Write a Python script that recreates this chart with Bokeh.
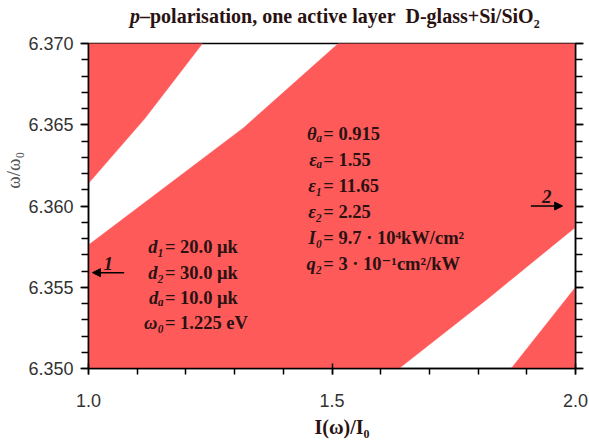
import math
from bokeh.plotting import figure
from bokeh.layouts import column
from bokeh.models import Range1d, LinearAxis, FixedTicker, Label, Arrow, NormalHead, ColumnDataSource, Div
from bokeh.core.properties import value
from bokeh.embed import file_html
from bokeh.resources import INLINE

# ---------------- data ----------------
x_min, x_max = 1.0, 2.0
y_min, y_max = 6.350, 6.370

x_major_ticks = [1.0, 1.5, 2.0]
x_tick_labels = ["1.0", "1.5", "2.0"]
x_minor_ticks = [1.0, 1.1, 1.2, 1.3, 1.4, 1.5, 1.6, 1.7, 1.8, 1.9, 2.0]
y_major_ticks = [6.350, 6.355, 6.360, 6.365, 6.370]
y_tick_labels = ["6.350", "6.355", "6.360", "6.365", "6.370"]
y_minor_ticks = [6.350, 6.351, 6.352, 6.353, 6.354, 6.355, 6.356, 6.357, 6.358, 6.359,
                 6.360, 6.361, 6.362, 6.363, 6.364, 6.365, 6.366, 6.367, 6.368, 6.369, 6.370]

# boundaries of the white (unstable) bands
band_a_upper_x = [1.0, 1.116, 1.234]
band_a_upper_y = [6.3614, 6.3654, 6.370]
band_a_lower_x = [1.0, 1.318, 1.513]
band_a_lower_y = [6.3576, 6.3648, 6.370]
band_b_upper_x = [1.6375, 1.82, 2.0]
band_b_upper_y = [6.350, 6.3543, 6.3587]
band_b_lower_x = [1.868, 2.0]
band_b_lower_y = [6.350, 6.3550]

# arrows marking branches 1 and 2
arrow_names = ["1", "2"]
arrow_x_start = [1.0733, 1.9084]
arrow_x_end = [1.0081, 1.9735]
arrow_y = [6.3559, 6.3600]

left_symbols = ["d\u2081", "d\u2082", "d\u2090", "\u03c9\u2080"]
left_values = ["= 20.0 \u03bck", "= 30.0 \u03bck", "= 10.0 \u03bck", "= 1.225 eV"]
right_symbols = ["\u03b8\u2090", "\u03b5\u2090", "\u03b5\u2081", "\u03b5\u2082", "I\u2080", "q\u2082"]
right_values = ["= 0.915", "= 1.55", "= 11.65", "= 2.25",
                "= 9.7 \u00b7 10\u2074kW/cm\u00b2", "= 3 \u00b7 10\u207b\u00b9cm\u00b2/kW"]

title_html = ("<i>p</i>\u2013polarisation, one active layer&nbsp;&nbsp;"
              "D-glass+Si/SiO<sub style='font-size:12px'>2</sub>")
x_label = "I(\u03c9)/I\u2080"
y_label = "\u03c9/\u03c9\u2080"

# ---------------- style ----------------
RED = "#ff5a5a"
TXT = "#2a1212"
SERIF = "Liberation Serif, DejaVu Serif, serif"
SANS = "Liberation Sans, DejaVu Sans, sans-serif"
NB = "\u00a0"

title_div = Div(
    text=("<div style=\"font-family:'Liberation Serif','DejaVu Serif',serif;font-size:20px;"
          "font-weight:bold;color:%s;padding-left:130px;padding-top:5px;white-space:nowrap;"
          "line-height:23px\">%s</div>") % (TXT, title_html),
    width=589, height=30, margin=(0, 0, 0, 0))

p = figure(width=589, height=413, output_backend="svg", toolbar_location=None,
           x_range=Range1d(x_min, x_max), y_range=Range1d(y_min, y_max),
           min_border_left=84, min_border_right=14, min_border_top=13, min_border_bottom=75,
           margin=(0, 0, 0, 0))
p.xgrid.visible = False
p.ygrid.visible = False
p.background_fill_color = "white"
p.outline_line_color = "black"
p.outline_line_width = 1.5

# red (stable) regions
reg1_x = [x_min] + band_a_upper_x
reg1_y = [y_max] + band_a_upper_y
reg2_x = band_a_lower_x + [x_max] + band_b_upper_x[::-1] + [x_min]
reg2_y = band_a_lower_y + [y_max] + band_b_upper_y[::-1] + [y_min]
reg3_x = band_b_lower_x + [x_max]
reg3_y = band_b_lower_y + [y_min]
p.patches(xs=[reg1_x, reg2_x, reg3_x], ys=[reg1_y, reg2_y, reg3_y],
          fill_color=RED, line_color=RED, line_width=0.5)

# axes
xa = p.xaxis[0]
xa.ticker = FixedTicker(ticks=x_major_ticks, minor_ticks=x_minor_ticks)
xa.major_label_overrides = {t: l for t, l in zip(x_major_ticks, x_tick_labels)}
ya = p.yaxis[0]
ya.ticker = FixedTicker(ticks=y_major_ticks, minor_ticks=y_minor_ticks)
ya.major_label_overrides = {t: l for t, l in zip(y_major_ticks, y_tick_labels)}
for ax in (xa, ya):
    ax.axis_line_color = "black"
    ax.axis_line_width = 1.5
    ax.major_tick_line_color = "black"
    ax.minor_tick_line_color = "black"
    ax.major_tick_line_width = 1.5
    ax.minor_tick_line_width = 1.5
    ax.major_label_text_font = SANS
    ax.major_label_text_font_size = "18px"
    ax.major_label_text_color = "#333333"
xa.major_tick_in = 5
xa.major_tick_out = 6
xa.minor_tick_in = 0
xa.minor_tick_out = 6
xa.major_label_standoff = 19
xa.axis_label = NB * 4 + x_label
xa.axis_label_text_font = SERIF
xa.axis_label_text_font_style = "bold"
xa.axis_label_text_font_size = "20px"
xa.axis_label_text_color = TXT
xa.axis_label_standoff = 6

ya.major_tick_in = 0
ya.major_tick_out = 8
ya.minor_tick_in = 0
ya.minor_tick_out = 7
ya.major_label_standoff = 7
ya.axis_label = NB * 15 + y_label
ya.axis_label_text_font = SERIF
ya.axis_label_text_font_style = "normal"
ya.axis_label_text_font_size = "19px"
ya.axis_label_text_color = "#555555"
ya.axis_label_standoff = 1

ra = LinearAxis(ticker=FixedTicker(ticks=y_major_ticks, minor_ticks=y_minor_ticks))
ra.major_label_overrides = {t: "" for t in y_major_ticks}
ra.major_label_standoff = 0
ra.axis_line_color = "black"
ra.axis_line_width = 1.5
ra.major_tick_line_width = 1.5
ra.minor_tick_line_width = 1.5
ra.major_tick_in = 0
ra.major_tick_out = 8
ra.minor_tick_in = 0
ra.minor_tick_out = 7
p.add_layout(ra, "right")

# annotation blocks
left_sep_x, left_y0, left_step = 1.1548, 6.35745, -0.00156
right_sep_x, right_y0, right_step = 1.4800, 6.36446, -0.00160
ann_x = [left_sep_x] * len(left_symbols) + [right_sep_x] * len(right_symbols)
ann_y = [left_y0 + i * left_step for i in range(len(left_symbols))] + \
        [right_y0 + i * right_step for i in range(len(right_symbols))]
src = ColumnDataSource(dict(x=ann_x, y=ann_y, sym=left_symbols + right_symbols,
                            val=left_values + right_values))
p.text(x="x", y="y", text="sym", source=src, text_font=value(SERIF), text_font_style="bold italic",
       text_font_size="18.5px", text_color=TXT, text_align="right", text_baseline="middle")
p.text(x="x", y="y", text="val", source=src, text_font=value(SERIF), text_font_style="bold",
       text_font_size="18.5px", text_color=TXT, text_align="left", text_baseline="middle", x_offset=1)

# arrows
for name, xs, xe, ya_ in zip(arrow_names, arrow_x_start, arrow_x_end, arrow_y):
    p.add_layout(Arrow(end=NormalHead(size=8, fill_color="black", line_color="black"),
                       x_start=xs, y_start=ya_, x_end=xe, y_end=ya_,
                       line_color="black", line_width=1.5))
    p.add_layout(Label(x=(xs + xe) / 2, y=ya_, text=name, text_font=SERIF,
                       text_font_style="bold italic", text_font_size="19px", text_color=TXT,
                       text_align="center", text_baseline="bottom", y_offset=3))

layout = column(title_div, p, spacing=0)
open("out.html", "w").write(file_html(layout, INLINE))
